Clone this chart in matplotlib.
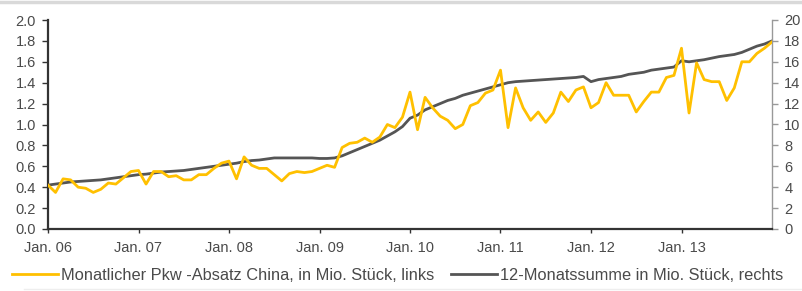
import matplotlib
matplotlib.use("Agg")
import matplotlib.pyplot as plt
from matplotlib.lines import Line2D
import numpy as np

plt.rcParams['font.family'] = ['Liberation Sans', 'DejaVu Sans']

# Monthly passenger car sales China (Mio. units), Jan 2006 .. Jan 2014, left axis
monthly = [
    0.42, 0.35, 0.48, 0.47, 0.40, 0.39, 0.35, 0.38, 0.44, 0.43, 0.49, 0.55,
    0.56, 0.43, 0.55, 0.55, 0.50, 0.51, 0.47, 0.47, 0.52, 0.52, 0.58, 0.63,
    0.65, 0.48, 0.69, 0.61, 0.58, 0.58, 0.52, 0.46, 0.53, 0.55, 0.54, 0.55,
    0.58, 0.61, 0.59, 0.78, 0.82, 0.83, 0.87, 0.83, 0.88, 1.00, 0.97, 1.07,
    1.31, 0.95, 1.26, 1.16, 1.08, 1.04, 0.96, 1.00, 1.18, 1.21, 1.30, 1.33,
    1.52, 0.97, 1.35, 1.16, 1.04, 1.12, 1.02, 1.11, 1.31, 1.22, 1.33, 1.36,
    1.16, 1.21, 1.40, 1.28, 1.28, 1.28, 1.12, 1.22, 1.31, 1.31, 1.45, 1.47,
    1.73, 1.11, 1.59, 1.43, 1.41, 1.41, 1.23, 1.35, 1.60, 1.60, 1.68, 1.73,
    1.79,
]
# 12-month rolling sum (Mio. units), right axis
rolling = [
    4.2, 4.3, 4.4, 4.5, 4.55, 4.6, 4.65, 4.7, 4.8, 4.9, 5.0, 5.1,
    5.2, 5.25, 5.35, 5.45, 5.5, 5.55, 5.6, 5.7, 5.8, 5.9, 6.0, 6.1,
    6.2, 6.3, 6.45, 6.55, 6.6, 6.7, 6.8, 6.8, 6.8, 6.8, 6.8, 6.8,
    6.75, 6.75, 6.8, 7.0, 7.3, 7.6, 7.9, 8.2, 8.5, 8.9, 9.3, 9.8,
    10.6, 10.9, 11.4, 11.7, 12.0, 12.3, 12.5, 12.8, 13.0, 13.2, 13.4, 13.6,
    13.8, 14.0, 14.1, 14.15, 14.2, 14.25, 14.3, 14.35, 14.4, 14.45, 14.5, 14.6,
    14.1, 14.3, 14.4, 14.5, 14.6, 14.8, 14.9, 15.0, 15.2, 15.3, 15.4, 15.5,
    16.1, 16.0, 16.1, 16.2, 16.35, 16.5, 16.6, 16.7, 16.9, 17.2, 17.5, 17.7,
    18.0,
]
x_labels = ["Jan. 06", "Jan. 07", "Jan. 08", "Jan. 09", "Jan. 10",
            "Jan. 11", "Jan. 12", "Jan. 13"]
left_ticks = [0.0, 0.2, 0.4, 0.6, 0.8, 1.0, 1.2, 1.4, 1.6, 1.8, 2.0]
right_ticks = [0, 2, 4, 6, 8, 10, 12, 14, 16, 18, 20]

YELLOW = "#FFC000"
GRAY = "#555555"
TXT = "#4a4a4a"

fig = plt.figure(figsize=(8.03, 2.91), dpi=100)
ax = fig.add_axes([48 / 803, 1 - 229 / 291, (772 - 48) / 803, (229 - 20) / 291])
ax2 = ax.twinx()

x = np.arange(len(monthly))
ax.plot(x, monthly, color=YELLOW, lw=2.0, zorder=3, solid_joinstyle='round')
ax2.plot(x, rolling, color=GRAY, lw=2.0, zorder=2, solid_joinstyle='round')
ax.set_zorder(ax2.get_zorder() + 1)
ax.patch.set_visible(False)

ax.set_xlim(0, len(monthly) - 1)
ax.set_ylim(0, 2.0)
ax2.set_ylim(0, 20)

ax.set_yticks(left_ticks)
ax.set_yticklabels([f"{v:.1f}" for v in left_ticks])
ax2.set_yticks(right_ticks)
ax2.set_yticklabels([str(v) for v in right_ticks])
ax.set_xticks(np.arange(0, 12 * len(x_labels), 12))
ax.set_xticklabels(x_labels)

for a in (ax, ax2):
    a.spines['top'].set_visible(False)
ax.spines['right'].set_visible(False)
ax2.spines['left'].set_visible(False)
ax2.spines['bottom'].set_visible(False)
ax.spines['left'].set_color("#333333")
ax.spines['left'].set_linewidth(1.6)
ax.spines['bottom'].set_color("#333333")
ax.spines['bottom'].set_linewidth(1.6)
ax2.spines['right'].set_color("#999999")
ax2.spines['right'].set_linewidth(1.0)

ax.tick_params(axis='y', length=4.3, width=1, color="#333333", labelsize=10.5,
               labelcolor=TXT, pad=4.5)
ax.tick_params(axis='x', length=3, width=1, color="#333333", labelsize=10.5,
               labelcolor=TXT, pad=6)
ax2.tick_params(axis='y', length=4.3, width=1, color="#999999", labelsize=10.5,
                labelcolor=TXT, pad=4.5)

handles = [Line2D([], [], color=YELLOW, lw=2.0),
           Line2D([], [], color=GRAY, lw=2.0)]
labels = ["Monatlicher Pkw -Absatz China, in Mio. Stück, links",
          "12-Monatssumme in Mio. Stück, rechts"]
fig.legend(handles, labels, loc='center left', bbox_to_anchor=(12 / 803, 1 - 275 / 291),
           ncol=2, frameon=False, fontsize=11.8, handlelength=2.8,
           handletextpad=0.2, columnspacing=1.0, borderaxespad=0, borderpad=0,
           labelcolor=TXT)

# thin border lines at top and bottom
fig.add_artist(Line2D([0, 1], [1 - 1.5 / 291, 1 - 1.5 / 291], color="#d9d9d9",
                      lw=2.5, transform=fig.transFigure))
fig.add_artist(Line2D([0.03, 1], [1 - 289 / 291, 1 - 289 / 291], color="#eeeeee",
                      lw=1, transform=fig.transFigure))

fig.savefig("out.png", dpi=100)
